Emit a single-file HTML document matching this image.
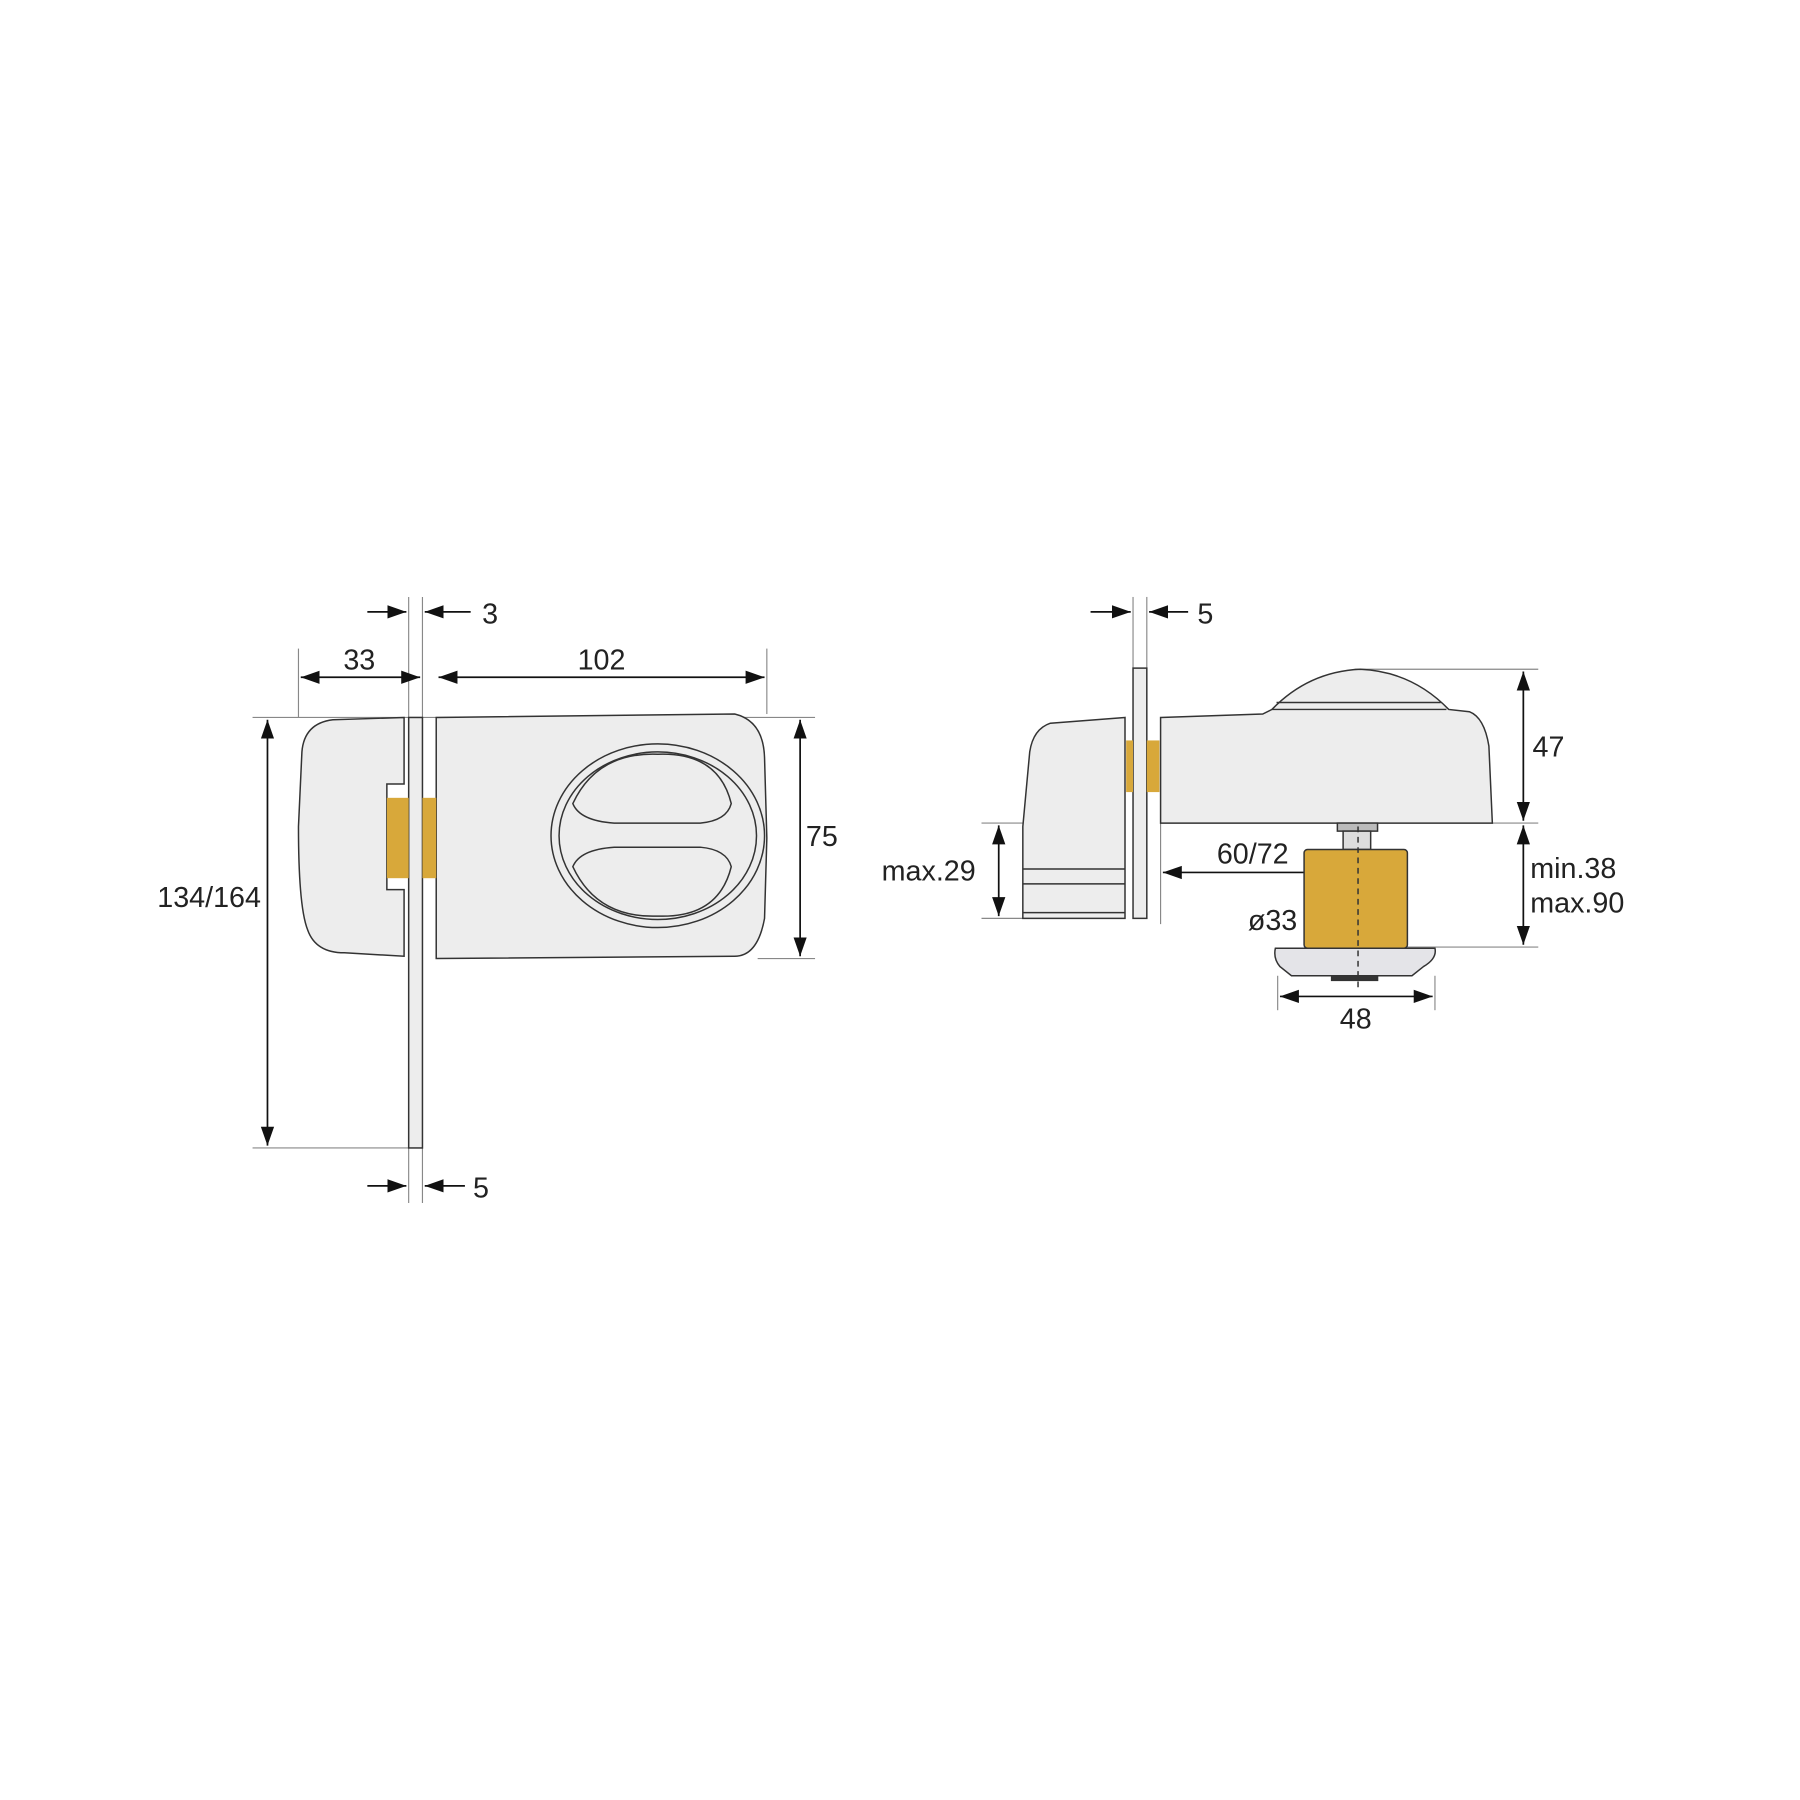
<!DOCTYPE html>
<html><head><meta charset="utf-8"><style>html,body{margin:0;padding:0;background:#fff}svg{display:block}</style></head>
<body>
<svg width="1800" height="1800" viewBox="0 0 1568 1568" xmlns="http://www.w3.org/2000/svg" font-family="Liberation Sans, sans-serif" font-size="24" fill="#222">
<defs>
<marker id="a" viewBox="0 0 10 10" refX="10" refY="5" markerWidth="11" markerHeight="11" orient="auto-start-reverse" markerUnits="strokeWidth"><path d="M0,1.5L10,5L0,8.5z" fill="#111"/></marker>
</defs>
<g stroke="#888" stroke-width="1" fill="none">
<line x1="260" y1="565" x2="260" y2="625"/><line x1="356" y1="520" x2="356" y2="1048"/><line x1="368" y1="520" x2="368" y2="1048"/>
<line x1="668" y1="565" x2="668" y2="622"/><line x1="220" y1="625" x2="710" y2="625"/><line x1="660" y1="835" x2="710" y2="835"/>
<line x1="220" y1="1000" x2="356" y2="1000"/>
<line x1="987" y1="520" x2="987" y2="585"/><line x1="999" y1="520" x2="999" y2="585"/>
<line x1="1180" y1="583" x2="1340" y2="583"/><line x1="1300" y1="717" x2="1340" y2="717"/><line x1="1226" y1="825" x2="1340" y2="825"/>
<line x1="855" y1="717" x2="891" y2="717"/><line x1="855" y1="800" x2="891" y2="800"/>
<line x1="1011" y1="717" x2="1011" y2="805"/>
<line x1="1113" y1="850" x2="1113" y2="880"/><line x1="1250" y1="850" x2="1250" y2="880"/>
</g>
<g stroke="#111" stroke-width="1.5" fill="none">
<line x1="262" y1="590" x2="366" y2="590" marker-start="url(#a)" marker-end="url(#a)"/>
<line x1="382" y1="590" x2="666" y2="590" marker-start="url(#a)" marker-end="url(#a)"/>
<line x1="320" y1="533" x2="354" y2="533" marker-end="url(#a)"/><line x1="410" y1="533" x2="370" y2="533" marker-end="url(#a)"/>
<line x1="697" y1="627" x2="697" y2="833" marker-start="url(#a)" marker-end="url(#a)"/>
<line x1="233" y1="627" x2="233" y2="998" marker-start="url(#a)" marker-end="url(#a)"/>
<line x1="320" y1="1033" x2="354" y2="1033" marker-end="url(#a)"/><line x1="405" y1="1033" x2="370" y2="1033" marker-end="url(#a)"/>
<line x1="950" y1="533" x2="985" y2="533" marker-end="url(#a)"/><line x1="1035" y1="533" x2="1001" y2="533" marker-end="url(#a)"/>
<line x1="1327" y1="585" x2="1327" y2="715" marker-start="url(#a)" marker-end="url(#a)"/>
<line x1="1327" y1="719" x2="1327" y2="823" marker-start="url(#a)" marker-end="url(#a)"/>
<line x1="870" y1="719" x2="870" y2="798" marker-start="url(#a)" marker-end="url(#a)"/>
<line x1="1013" y1="760" x2="1183" y2="760" marker-start="url(#a)" marker-end="url(#a)"/>
<line x1="1140" y1="802" x2="1224" y2="802" marker-start="url(#a)" marker-end="url(#a)"/>
<line x1="1115" y1="868" x2="1248" y2="868" marker-start="url(#a)" marker-end="url(#a)"/>
</g>
<g stroke="#333" stroke-width="1.3" fill="#ededed">
<path d="M352,625 L290,627 Q265,630 263,655 L260,720 Q260,790 268,810 Q275,830 300,830 L352,833 L352,775 L337,775 L337,683 L352,683 Z"/>
<rect x="356" y="625" width="12" height="375"/>
<path d="M380,625 L640,622 Q665,628 666,660 L668,730 L666,800 Q660,833 640,833 L380,835 Z"/>
<ellipse cx="573" cy="728" rx="93" ry="80" fill="none"/>
<ellipse cx="573" cy="728" rx="86" ry="73" fill="none"/>
<path d="M499,700 Q520,655 573,657 Q626,655 637,700 Q633,715 610,717 L535,717 Q505,715 499,700 Z" fill="none"/>
<path d="M499,755 Q520,800 573,798 Q626,800 637,755 Q633,740 610,738 L535,738 Q505,740 499,755 Z" fill="none"/>
<rect x="337" y="695" width="19" height="70" fill="#d8a83a" stroke="none"/>
<rect x="368" y="695" width="12" height="70" fill="#d8a83a" stroke="none"/>
<path d="M980,625 L915,630 Q900,635 897,655 L891,720 L891,800 L980,800 Z"/>
<line x1="891" y1="757" x2="980" y2="757"/><line x1="891" y1="770" x2="980" y2="770"/><line x1="891" y1="795" x2="980" y2="795"/>
<rect x="987" y="582" width="12" height="218"/>
<path d="M1011,625 L1100,622 L1108,618 Q1140,585 1185,583 Q1230,585 1262,618 L1280,620 Q1293,625 1297,650 L1300,717 L1011,717 Z"/>
<line x1="1112" y1="612" x2="1255" y2="612"/><line x1="1108" y1="618" x2="1260" y2="618"/>
<rect x="981" y="645" width="6" height="45" fill="#d8a83a" stroke="none"/>
<rect x="999" y="645" width="11" height="45" fill="#d8a83a" stroke="none"/>
<rect x="1165" y="717" width="35" height="7" fill="#bbb"/>
<rect x="1170" y="724" width="24" height="16" fill="#ddd"/>
<rect x="1136" y="740" width="90" height="86" rx="3" fill="#d8a83a"/>
<path d="M1111,826 L1250,826 Q1252,835 1240,842 L1230,850 L1125,850 L1115,842 Q1109,835 1111,826 Z" fill="#e4e4e8"/>
<rect x="1160" y="850" width="40" height="4" fill="#333"/>
<line x1="1183" y1="720" x2="1183" y2="860" stroke-dasharray="5,4"/>
</g>
<g font-size="25">
<text x="313" y="583" text-anchor="middle">33</text>
<text x="524" y="583" text-anchor="middle">102</text>
<text x="420" y="543">3</text>
<text x="702" y="737">75</text>
<text x="137" y="790">134/164</text>
<text x="412" y="1043">5</text>
<text x="1043" y="543">5</text>
<text x="1335" y="659">47</text>
<text x="1333" y="765">min.38</text>
<text x="1333" y="795">max.90</text>
<text x="768" y="767">max.29</text>
<text x="1060" y="752">60/72</text>
<text x="1087" y="810">ø33</text>
<text x="1181" y="896" text-anchor="middle">48</text>
</g>
</svg>
</body></html>
